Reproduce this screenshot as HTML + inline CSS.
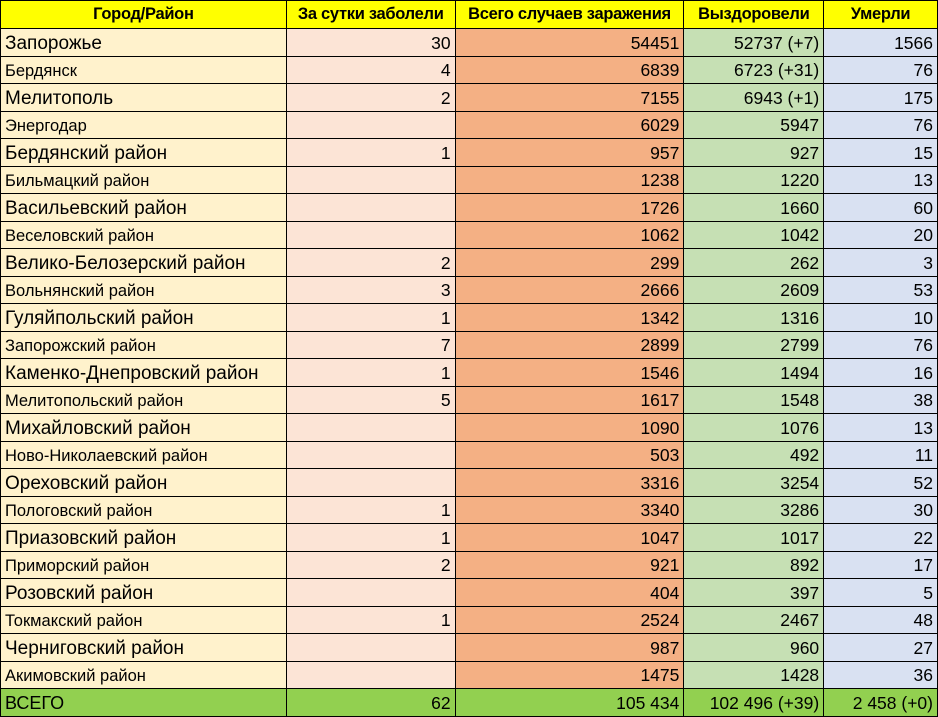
<!DOCTYPE html>
<html><head><meta charset="utf-8"><style>
html,body{margin:0;padding:0;background:#fff;width:938px;height:713px;overflow:hidden}
table{border-collapse:collapse;table-layout:fixed;font-family:"Liberation Sans",sans-serif;color:#000;position:absolute;left:0;top:0}
td{border:1px solid #000;padding:2px 4px 0 4px;white-space:nowrap;overflow:hidden;font-size:17.5px;text-align:right;line-height:1;vertical-align:middle}
tr{height:27.5px}
tr.h{height:28px}
tr.h td{background:#ffff00;font-weight:bold;text-align:center;font-size:16.5px;padding:0 1px;letter-spacing:-0.3px}
td.a{background:#fff2cc;text-align:left;font-size:16.5px}
tr.b td.a{font-size:19px;font-weight:500}
td.c{background:#fce4d6}
td.d{background:#f4b084}
td.e{background:#c6e0b4}
td.f{background:#d9e1f2}
tr.t td{background:#92d050;font-size:17.5px}
tr.t td.a{font-size:18px}
</style></head><body>
<table>
<colgroup><col style="width:286px"><col style="width:169px"><col style="width:229px"><col style="width:140px"><col style="width:114px"></colgroup>
<tr class="h"><td>Город/Район</td><td>За сутки заболели</td><td>Всего случаев заражения</td><td>Выздоровели</td><td>Умерли</td></tr>
<tr class="b"><td class="a">Запорожье</td><td class="c">30</td><td class="d">54451</td><td class="e">52737 (+7)</td><td class="f">1566</td></tr>
<tr><td class="a">Бердянск</td><td class="c">4</td><td class="d">6839</td><td class="e">6723 (+31)</td><td class="f">76</td></tr>
<tr class="b"><td class="a">Мелитополь</td><td class="c">2</td><td class="d">7155</td><td class="e">6943 (+1)</td><td class="f">175</td></tr>
<tr><td class="a">Энергодар</td><td class="c"></td><td class="d">6029</td><td class="e">5947</td><td class="f">76</td></tr>
<tr class="b"><td class="a">Бердянский район</td><td class="c">1</td><td class="d">957</td><td class="e">927</td><td class="f">15</td></tr>
<tr><td class="a">Бильмацкий район</td><td class="c"></td><td class="d">1238</td><td class="e">1220</td><td class="f">13</td></tr>
<tr class="b"><td class="a">Васильевский район</td><td class="c"></td><td class="d">1726</td><td class="e">1660</td><td class="f">60</td></tr>
<tr><td class="a">Веселовский район</td><td class="c"></td><td class="d">1062</td><td class="e">1042</td><td class="f">20</td></tr>
<tr class="b"><td class="a">Велико-Белозерский район</td><td class="c">2</td><td class="d">299</td><td class="e">262</td><td class="f">3</td></tr>
<tr><td class="a">Вольнянский район</td><td class="c">3</td><td class="d">2666</td><td class="e">2609</td><td class="f">53</td></tr>
<tr class="b"><td class="a">Гуляйпольский район</td><td class="c">1</td><td class="d">1342</td><td class="e">1316</td><td class="f">10</td></tr>
<tr><td class="a">Запорожский район</td><td class="c">7</td><td class="d">2899</td><td class="e">2799</td><td class="f">76</td></tr>
<tr class="b"><td class="a">Каменко-Днепровский район</td><td class="c">1</td><td class="d">1546</td><td class="e">1494</td><td class="f">16</td></tr>
<tr><td class="a">Мелитопольский район</td><td class="c">5</td><td class="d">1617</td><td class="e">1548</td><td class="f">38</td></tr>
<tr class="b"><td class="a">Михайловский район</td><td class="c"></td><td class="d">1090</td><td class="e">1076</td><td class="f">13</td></tr>
<tr><td class="a">Ново-Николаевский район</td><td class="c"></td><td class="d">503</td><td class="e">492</td><td class="f">11</td></tr>
<tr class="b"><td class="a">Ореховский район</td><td class="c"></td><td class="d">3316</td><td class="e">3254</td><td class="f">52</td></tr>
<tr><td class="a">Пологовский район</td><td class="c">1</td><td class="d">3340</td><td class="e">3286</td><td class="f">30</td></tr>
<tr class="b"><td class="a">Приазовский район</td><td class="c">1</td><td class="d">1047</td><td class="e">1017</td><td class="f">22</td></tr>
<tr><td class="a">Приморский район</td><td class="c">2</td><td class="d">921</td><td class="e">892</td><td class="f">17</td></tr>
<tr class="b"><td class="a">Розовский район</td><td class="c"></td><td class="d">404</td><td class="e">397</td><td class="f">5</td></tr>
<tr><td class="a">Токмакский район</td><td class="c">1</td><td class="d">2524</td><td class="e">2467</td><td class="f">48</td></tr>
<tr class="b"><td class="a">Черниговский район</td><td class="c"></td><td class="d">987</td><td class="e">960</td><td class="f">27</td></tr>
<tr><td class="a">Акимовский район</td><td class="c"></td><td class="d">1475</td><td class="e">1428</td><td class="f">36</td></tr>
<tr class="t"><td class="a">ВСЕГО</td><td>62</td><td>105 434</td><td>102 496 (+39)</td><td>2 458 (+0)</td></tr>
</table>
</body></html>
